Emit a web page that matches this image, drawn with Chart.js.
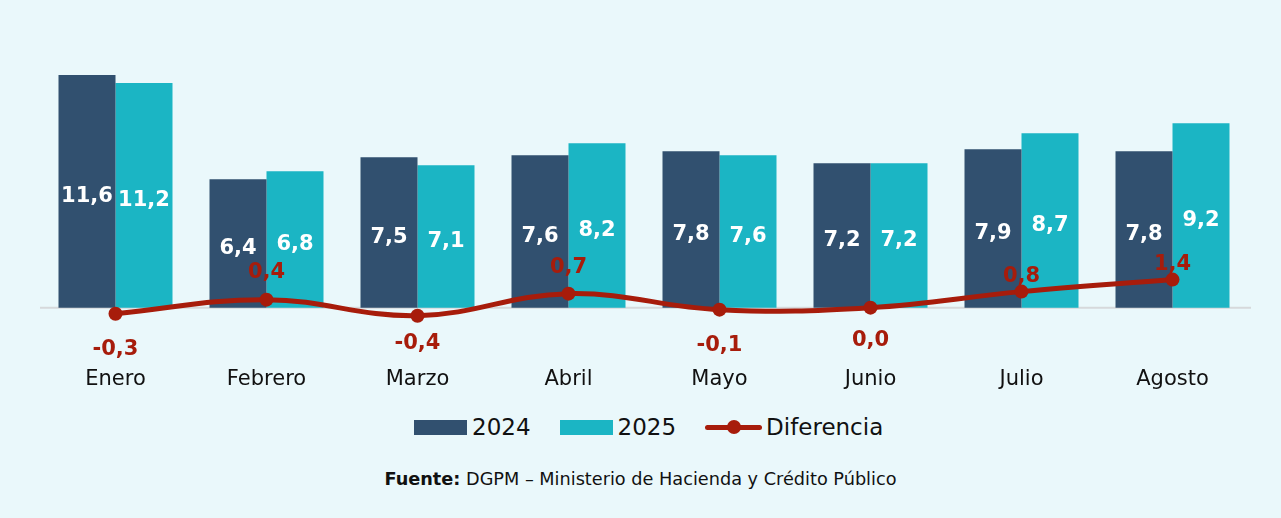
<!DOCTYPE html>
<html>
<head>
<meta charset="utf-8">
<script src="https://cdn.jsdelivr.net/npm/chart.js@4"></script>
<style>
    body { margin: 0; background: #EAF8FB; font-family: 'DejaVu Sans', sans-serif; }
    #wrap { position: relative; width: 1281px; height: 518px; overflow: hidden; }
    #chart { position: absolute; left: 0; top: 0; }
    #legend { position: absolute; left: 414px; top: 414px; display: flex; align-items: center; font-size: 23px; color: #111; }
    .item { display: flex; align-items: center; margin-right: 29px; }
    .box { width: 53px; height: 15px; margin-right: 5px; }
    .lineKey { position: relative; width: 57px; height: 5px; background: #A71C0B; border-radius: 3px; margin-right: 4px; }
    .lineKey span { position: absolute; left: 22px; top: -5px; width: 14px; height: 14px; border-radius: 50%; background: #A71C0B; }
    #source { position: absolute; left: 0; width: 1281px; top: 469px; text-align: center; font-size: 17.7px; color: #111; }
</style>
</head>
<body>
<div id="wrap">
    <canvas id="chart" width="1281" height="402"></canvas>
    <div id="legend">
        <div class="item"><div class="box" style="background:#31506F"></div>2024</div>
        <div class="item"><div class="box" style="background:#1BB5C4"></div>2025</div>
        <div class="item"><div class="lineKey"><span></span></div>Diferencia</div>
    </div>
    <div id="source"><b>Fuente:</b> DGPM – Ministerio de Hacienda y Crédito Público</div>
</div>
<script>
const months = ['Enero', 'Febrero', 'Marzo', 'Abril', 'Mayo', 'Junio', 'Julio', 'Agosto'];
const values2024 = [11.6, 6.4, 7.5, 7.6, 7.8, 7.2, 7.9, 7.8];
const values2025 = [11.2, 6.8, 7.1, 8.2, 7.6, 7.2, 8.7, 9.2];
const difference = [-0.3, 0.4, -0.4, 0.7, -0.1, 0.0, 0.8, 1.4];

// vertical offset of each difference label from its point (style only)
const diffLabelOffset = [36, -27, 28, -26, 36, 33, -15, -15];

const colors = { navy: '#31506F', teal: '#1BB5C4', red: '#A71C0B', zero: '#D6D9DB' };
const fmt = v => v.toFixed(1).replace('.', ',');

const labelPlugin = {
    id: 'labels',
    beforeDatasetsDraw(chart) {
        const { ctx, chartArea } = chart;
        const y0 = chart.scales.y.getPixelForValue(0);
        ctx.save();
        ctx.strokeStyle = colors.zero;
        ctx.lineWidth = 2;
        ctx.beginPath();
        ctx.moveTo(chartArea.left, y0);
        ctx.lineTo(chartArea.right + 3, y0);
        ctx.stroke();
        ctx.restore();
    },
    afterDatasetsDraw(chart) {
        const ctx = chart.ctx;
        ctx.save();
        ctx.font = "bold 21px 'DejaVu Sans'";
        ctx.textAlign = 'center';
        ctx.textBaseline = 'middle';
        [0, 1].forEach(i => {
            const ds = chart.data.datasets[i];
            chart.getDatasetMeta(i).data.forEach((bar, j) => {
                const p = bar.getProps(['x', 'y', 'base'], true);
                ctx.fillStyle = '#FFFFFF';
                ctx.fillText(fmt(ds.data[j]), p.x, (p.y + p.base) / 2 + 5);
            });
        });
        chart.getDatasetMeta(2).data.forEach((pt, j) => {
            ctx.fillStyle = colors.red;
            ctx.fillText(fmt(difference[j]), pt.x, pt.y + diffLabelOffset[j]);
        });
        ctx.restore();
    }
};

new Chart(document.getElementById('chart').getContext('2d'), {
    type: 'bar',
    data: {
        labels: months,
        datasets: [
            {
                label: '2024',
                data: values2024,
                backgroundColor: colors.navy,
                categoryPercentage: 0.755,
                barPercentage: 1.0,
                order: 2
            },
            {
                label: '2025',
                data: values2025,
                backgroundColor: colors.teal,
                categoryPercentage: 0.755,
                barPercentage: 1.0,
                order: 2
            },
            {
                type: 'line',
                label: 'Diferencia',
                data: difference,
                borderColor: colors.red,
                backgroundColor: colors.red,
                borderWidth: 5,
                tension: 0.4,
                pointRadius: 7,
                pointBackgroundColor: colors.red,
                pointBorderWidth: 0,
                order: 1
            }
        ]
    },
    options: {
        responsive: false,
        animation: false,
        layout: { padding: { left: 40, right: 33, top: 57, bottom: 9 } },
        plugins: {
            legend: { display: false },
            tooltip: { enabled: false }
        },
        scales: {
            y: {
                display: false,
                min: -2.5,
                max: 12.5
            },
            x: {
                grid: { display: false },
                border: { display: false },
                ticks: {
                    color: '#111111',
                    padding: 1,
                    font: { family: "'DejaVu Sans'", size: 21 }
                }
            }
        }
    },
    plugins: [labelPlugin]
});
</script>
</body>
</html>
